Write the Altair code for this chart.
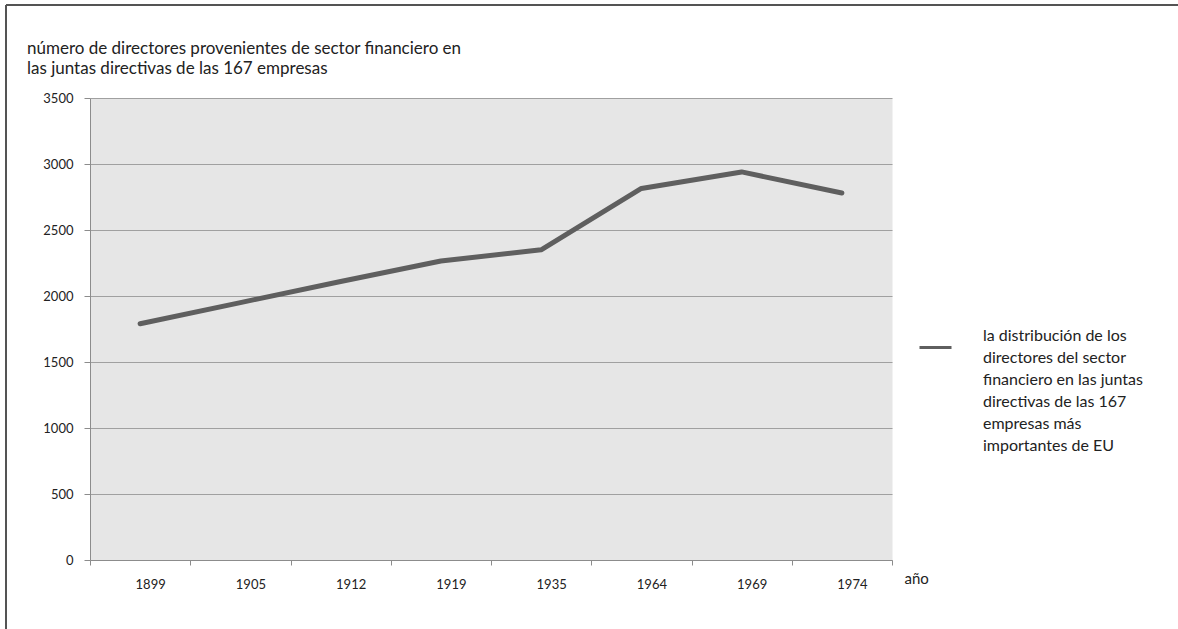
import altair as alt
import pandas as pd

years = ["1899", "1905", "1912", "1919", "1935", "1964", "1969", "1974"]
values = [1790, 1950, 2110, 2265, 2350, 2815, 2940, 2780]
series_name = "la distribución de los|directores del sector|financiero en las juntas|directivas de las 167|empresas más|importantes de EU"
title_lines = ["número de directores provenientes de sector financiero en",
               "las juntas directivas de las 167 empresas"]
y_ticks = [0, 500, 1000, 1500, 2000, 2500, 3000, 3500]

df = pd.DataFrame({"año": years, "valor": values, "serie": [series_name] * len(years)})

FONT = "Lato"
LABEL_DY = -20

line = alt.Chart(df).mark_line(strokeWidth=5, strokeCap="round", strokeJoin="round").encode(
    x=alt.X("año:O", sort=years,
            scale=alt.Scale(type="band", paddingInner=0, paddingOuter=0),
            axis=alt.Axis(title="año", tickBand="extent", labelAngle=0, labelOffset=10,
                          labelPadding=13 - LABEL_DY, tickSize=5, tickColor="#8c8c8c",
                          domainColor="#8c8c8c",
                          labelFontSize=13, labelColor="#222", labelFont=FONT,
                          titleX=814, titleY=18, titleAlign="left", titleBaseline="middle",
                          titleFontWeight="normal", titleFontSize=15, titleFont=FONT,
                          titleColor="#222", grid=False)),
    y=alt.Y("valor:Q", scale=alt.Scale(domain=[0, 3500], nice=False),
            axis=alt.Axis(title=None, values=y_ticks, format="d", tickSize=6, tickColor="#8c8c8c",
                          domainColor="#8c8c8c", gridColor="#a0a0a0", labelPadding=11,
                          labelOffset=-LABEL_DY,
                          labelFontSize=13, labelColor="#222", labelFont=FONT)),
    color=alt.Color("serie:N", scale=alt.Scale(range=["#5f5f5f"]),
                    legend=alt.Legend(title=None, orient="none", legendX=828, legendY=232,
                                      symbolType="stroke", symbolSize=1024, symbolStrokeWidth=3,
                                      labelExpr="split(datum.label, '|')", labelLimit=0,
                                      labelFontSize=16, labelFont=FONT, labelColor="#222",
                                      labelOffset=30, labelBaseline="top", padding=0)),
)

border = alt.Chart(df).mark_rule(color="#555", strokeWidth=1).encode(
    x=alt.value(-84), x2=alt.value(-84), y=alt.value(-93), y2=alt.value(600))
border_top = alt.Chart(df).mark_rule(color="#555", strokeWidth=1).encode(
    x=alt.value(-84), x2=alt.value(1200), y=alt.value(-93), y2=alt.value(-93))

chart = alt.layer(line, border, border_top).properties(
    width=802, height=462,
    autosize=alt.AutoSizeParams(type="none"),
    padding={"left": 90, "top": 98, "right": 286, "bottom": 69},
    title=alt.TitleParams(text=title_lines, anchor="start", frame="group", dx=-63, offset=-73,
                          fontSize=17, font=FONT, fontWeight="normal", color="#222", lineHeight=20),
).configure(
    view={"fill": "#e6e6e6", "strokeOpacity": 0},
    style={"guide-label": {"lineHeight": 22, "dy": LABEL_DY}},
)

chart.save("out.html", embed_options={"renderer": "svg", "actions": False})
